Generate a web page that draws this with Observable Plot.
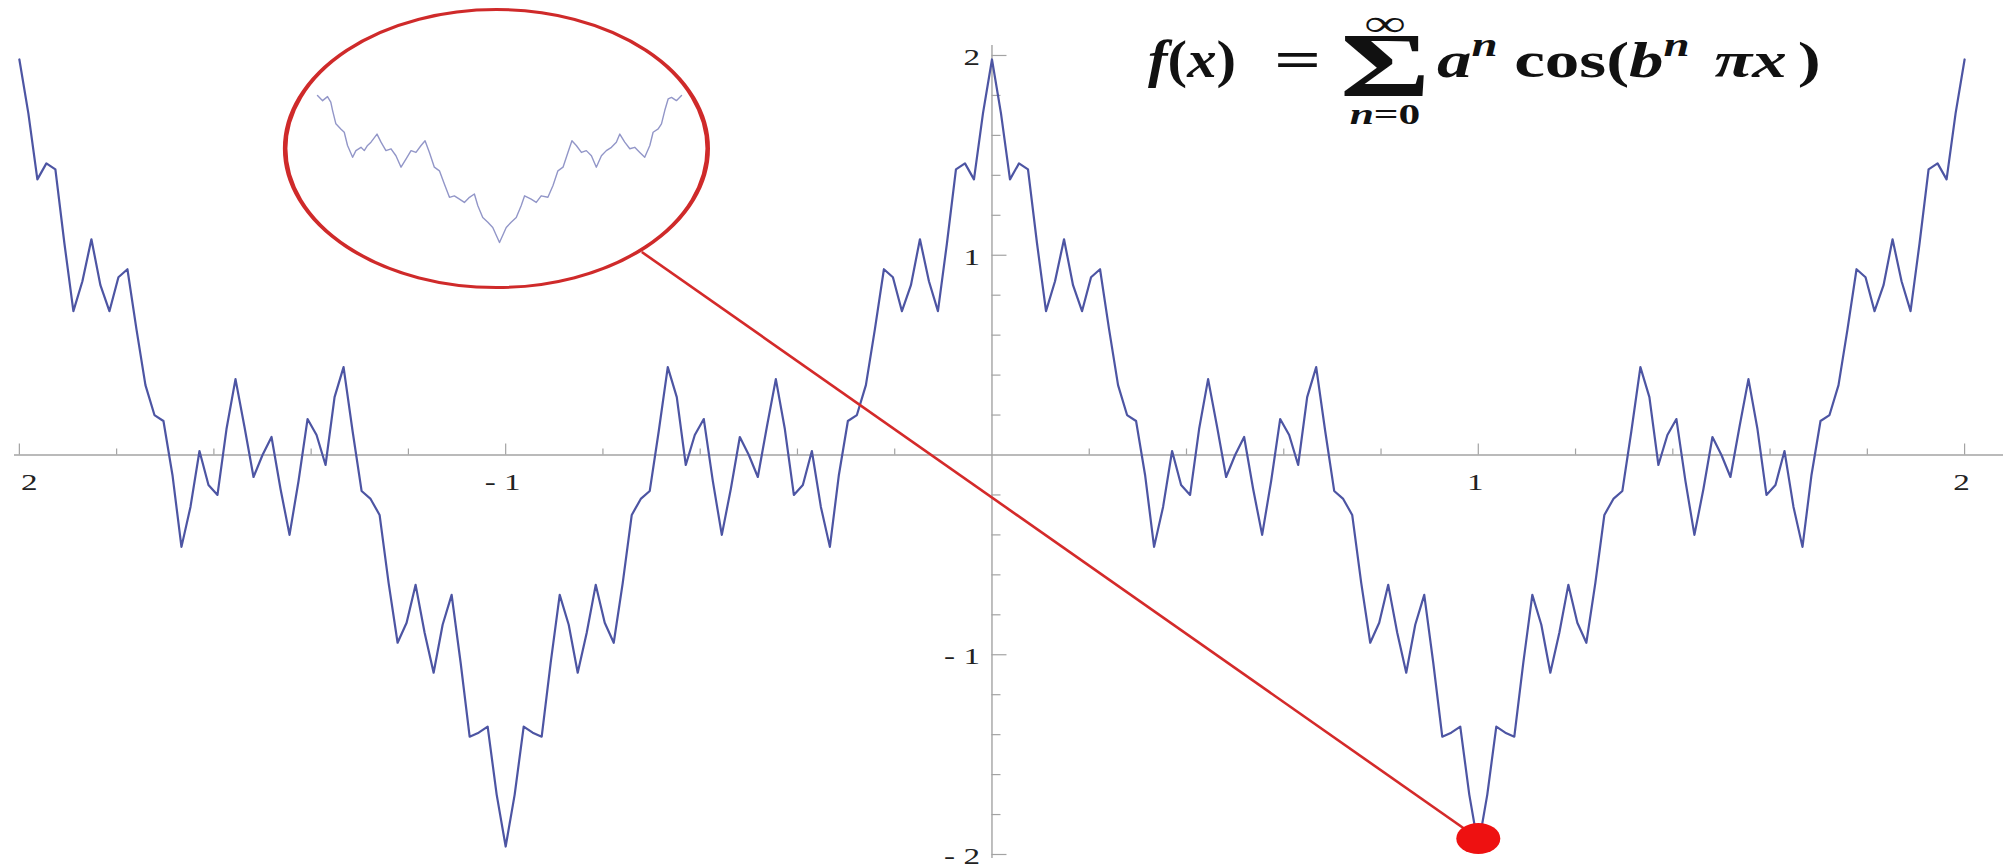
<!DOCTYPE html>
<html>
<head>
<meta charset="utf-8">
<script src="https://cdn.jsdelivr.net/npm/d3@7"></script>
<script src="https://cdn.jsdelivr.net/npm/@observablehq/plot@0.6"></script>
<style>
  html, body { margin: 0; padding: 0; background: #fff; }
  #chart { position: relative; width: 2015px; height: 868px; overflow: hidden; background: #fff; }
  #chart svg { display: block; }
</style>
</head>
<body>
<div id="chart"></div>
<script>
// Weierstrass curve f(x) = sum a^n cos(b^n pi x), sampled every 1/54 on each unit interval
const sampleStep = 1 / 54;

// x in [-2, -1]
const segmentA = [1.98, 1.71, 1.38, 1.46, 1.43, 1.06, 0.72, 0.87, 1.08, 0.85, 0.72, 0.89, 0.93, 0.63, 0.35, 0.20, 0.17, -0.10, -0.46, -0.26, 0.02, -0.15, -0.20, 0.13, 0.38, 0.14, -0.11, 0.00, 0.09, -0.17, -0.40, -0.13, 0.18, 0.10, -0.05, 0.29, 0.44, 0.12, -0.18, -0.22, -0.30, -0.64, -0.94, -0.84, -0.65, -0.89, -1.09, -0.85, -0.70, -1.04, -1.41, -1.39, -1.36, -1.70, -1.96];
// x in [-1, 0]
const segmentB = [-1.96, -1.70, -1.36, -1.39, -1.41, -1.04, -0.70, -0.85, -1.09, -0.89, -0.65, -0.84, -0.94, -0.64, -0.30, -0.22, -0.18, 0.12, 0.44, 0.29, -0.05, 0.10, 0.18, -0.13, -0.40, -0.17, 0.09, 0.00, -0.11, 0.14, 0.38, 0.13, -0.20, -0.15, 0.02, -0.26, -0.46, -0.10, 0.17, 0.20, 0.35, 0.63, 0.93, 0.89, 0.72, 0.85, 1.08, 0.87, 0.72, 1.06, 1.43, 1.46, 1.38, 1.71, 1.98];
// x in [0, 1]
const segmentC = [1.98, 1.71, 1.38, 1.46, 1.43, 1.06, 0.72, 0.87, 1.08, 0.85, 0.72, 0.89, 0.93, 0.63, 0.35, 0.20, 0.17, -0.10, -0.46, -0.26, 0.02, -0.15, -0.20, 0.13, 0.38, 0.14, -0.11, 0.00, 0.09, -0.17, -0.40, -0.13, 0.18, 0.10, -0.05, 0.29, 0.44, 0.12, -0.18, -0.22, -0.30, -0.64, -0.94, -0.84, -0.65, -0.89, -1.09, -0.85, -0.70, -1.04, -1.41, -1.39, -1.36, -1.70, -1.96];
// x in [1, 2]
const segmentD = [-1.96, -1.70, -1.36, -1.39, -1.41, -1.04, -0.70, -0.85, -1.09, -0.89, -0.65, -0.84, -0.94, -0.64, -0.30, -0.22, -0.18, 0.12, 0.44, 0.29, -0.05, 0.10, 0.18, -0.13, -0.40, -0.17, 0.09, 0.00, -0.11, 0.14, 0.38, 0.13, -0.20, -0.15, 0.02, -0.26, -0.46, -0.10, 0.17, 0.20, 0.35, 0.63, 0.93, 0.89, 0.72, 0.85, 1.08, 0.87, 0.72, 1.06, 1.43, 1.46, 1.38, 1.71, 1.98];
const segmentStarts = [-2, -1, 0, 1];

// magnified view around the minimum at x = 1 (local units)
const lensT = [-1, -0.972, -0.945, -0.927, -0.917, -0.899, -0.872, -0.853, -0.835, -0.807, -0.789, -0.761, -0.743, -0.725, -0.706, -0.673, -0.651, -0.624, -0.596, -0.569, -0.541, -0.514, -0.486, -0.459, -0.431, -0.409, -0.385, -0.358, -0.330, -0.303, -0.275, -0.248, -0.220, -0.193, -0.165, -0.138, -0.119, -0.092, -0.064, -0.037, 0, 0.037, 0.064, 0.092, 0.119, 0.138, 0.174, 0.202, 0.229, 0.266, 0.294, 0.321, 0.349, 0.376, 0.398, 0.422, 0.450, 0.477, 0.505, 0.532, 0.560, 0.587, 0.615, 0.642, 0.661, 0.688, 0.716, 0.743, 0.771, 0.798, 0.826, 0.844, 0.872, 0.890, 0.908, 0.927, 0.945, 0.972, 1.0];
const lensV = [2.0, 1.86, 1.97, 1.82, 1.59, 1.23, 1.09, 1.0, 0.64, 0.32, 0.5, 0.59, 0.5, 0.64, 0.73, 0.95, 0.73, 0.5, 0.55, 0.36, 0.05, 0.27, 0.5, 0.45, 0.64, 0.77, 0.45, 0.05, -0.05, -0.41, -0.77, -0.73, -0.82, -0.91, -0.77, -0.68, -1.0, -1.32, -1.45, -1.59, -2.0, -1.59, -1.45, -1.32, -1.0, -0.73, -0.82, -0.91, -0.73, -0.77, -0.45, -0.05, 0.05, 0.45, 0.77, 0.64, 0.45, 0.5, 0.36, 0.05, 0.36, 0.5, 0.59, 0.73, 0.95, 0.73, 0.55, 0.59, 0.45, 0.32, 0.64, 1.0, 1.09, 1.23, 1.59, 1.91, 1.95, 1.86, 2.0];

// axis ticks and labels
const xTickValues = [-2, -1.8, -1.6, -1.4, -1.2, -1, -0.8, -0.6, -0.4, -0.2, 0.2, 0.4, 0.6, 0.8, 1, 1.2, 1.4, 1.6, 1.8, 2];
const yTickValues = [-2, -1.8, -1.6, -1.4, -1.2, -1, -0.8, -0.6, -0.4, -0.2, 0.2, 0.4, 0.6, 0.8, 1, 1.2, 1.4, 1.6, 1.8, 2];
const xLabelValues = [-2, -1, 1, 2];
const xLabelText = ["2", "- 1", "1", "2"];
const yLabelValues = [2, 1, -1, -2];
const yLabelText = ["2", "1", "- 1", "- 2"];

// callout: marked point, lens centre, leader line
const markedPoint = [{x: 1, y: -1.92}];
const lensCentre = [{x: -1.019, y: 1.534}];
const leader = [{x1: -0.72, y1: 1.016, x2: 1, y2: -1.92}];

// ---- tables
const curve = [];
[segmentA, segmentB, segmentC, segmentD].forEach((vals, s) => {
  vals.forEach((v, i) => curve.push({x: segmentStarts[s] + i * sampleStep, y: v}));
});
const lensCurve = lensT.map((t, i) => ({t, v: lensV[i]}));
const xLabels = xLabelValues.map((x, i) => ({x, label: xLabelText[i]}));
const yLabels = yLabelValues.map((y, i) => ({y, label: yLabelText[i]}));

// ---- layout
const W = 2015, H = 868;
const xDomain = [-2.01, 2.08], yDomain = [-2.02, 2.05];
const mL = 14, mR = 12, mT = 45, mB = 10;
const xPx = (W - mL - mR) / (xDomain[1] - xDomain[0]);
const yPx = (H - mT - mB) / (yDomain[1] - yDomain[0]);
const stretch = 1.38;           // horizontal stretch of glyphs
const axisGrey = "#a3a3a3";
const serif = "'Liberation Serif', 'Times New Roman', serif";

const main = Plot.plot({
  width: W, height: H,
  marginLeft: mL, marginRight: mR, marginTop: mT, marginBottom: mB,
  x: {domain: xDomain, axis: null},
  y: {domain: yDomain, axis: null},
  style: {background: "#fff", overflow: "visible"},
  marks: [
    Plot.ruleY([0], {stroke: axisGrey, strokeWidth: 1.4}),
    Plot.ruleX([0], {stroke: axisGrey, strokeWidth: 1.4}),
    Plot.ruleX(xTickValues, {x: d => d, y1: 0, y2: d => (Number.isInteger(d) ? 11 : 6) / yPx, stroke: axisGrey, strokeWidth: 1.2}),
    Plot.ruleY(yTickValues, {y: d => d, x1: 0, x2: d => (Number.isInteger(d) ? 15 : 9) / xPx, stroke: axisGrey, strokeWidth: 1.2}),
    Plot.text(xLabels.slice(0, 1), {x: "x", y: 0, text: "label", dy: 27, dx: 10, fontSize: 24, fontFamily: serif, fill: "#222"}),
    Plot.text(xLabels.slice(1), {x: "x", y: 0, text: "label", dy: 27, dx: -3, fontSize: 24, fontFamily: serif, fill: "#222"}),
    Plot.text(yLabels, {x: 0, y: "y", text: "label", textAnchor: "end", dx: -12, dy: 2, fontSize: 24, fontFamily: serif, fill: "#222"}),
    Plot.line(curve, {x: "x", y: "y", stroke: "#4d55a3", strokeWidth: 2.2}),
    Plot.link(leader, {x1: "x1", y1: "y1", x2: "x2", y2: "y2", stroke: "#d42a2a", strokeWidth: 2.6}),
    Plot.dot(lensCentre, {x: "x", y: "y", r: 139, fill: "none", stroke: "#cf2a2a", strokeWidth: 3}),
    Plot.dot(markedPoint, {x: "x", y: "y", r: 15.5, fill: "#ee1111", stroke: "none"})
  ]
});

// widen a glyph or shape horizontally around its own anchor
function widen(el, s) {
  const t = el.getAttribute("transform");
  if (t) { el.setAttribute("transform", t + ` scale(${s},1)`); return; }
  const cx = +(el.getAttribute("cx") ?? el.getAttribute("x") ?? 0);
  const cy = +(el.getAttribute("cy") ?? el.getAttribute("y") ?? 0);
  el.setAttribute("transform", `translate(${cx},${cy}) scale(${s},1) translate(${-cx},${-cy})`);
}
main.querySelectorAll('g[aria-label="text"] text').forEach(el => widen(el, stretch));
const dotGroups = main.querySelectorAll('g[aria-label="dot"]');
dotGroups[0].querySelectorAll("circle, path").forEach(el => widen(el, 1.52));   // lens
dotGroups[1].querySelectorAll("circle, path").forEach(el => widen(el, 1.42));   // marked point

// formula, each piece placed at its own anchor with its own horizontal stretch
const svg = d3.select(main);
const fg = svg.append("g")
  .attr("fill", "#111")
  .attr("text-anchor", "start")
  .attr("font-family", serif)
  .attr("font-weight", "bold");

function piece(x, y, sx, size, anchor) {
  return fg.append("text")
    .attr("transform", `translate(${x},${y}) scale(${sx},1)`)
    .attr("font-size", size)
    .attr("text-anchor", anchor || "start");
}

const lhs = piece(1148, 77, 1.13, 52);
lhs.append("tspan").attr("font-style", "italic").text("f");
lhs.append("tspan").text("(");
lhs.append("tspan").attr("font-style", "italic").text("x");
lhs.append("tspan").text(")");

piece(1274, 77, 1.6, 52).text("=");

// summation sign with its limits, stacked in one text element
const sum = piece(1385, 0, 1.5, 92, "middle");
sum.append("tspan").attr("x", 0).attr("y", 36).attr("font-size", 38).text("∞");
sum.append("tspan").attr("x", 0).attr("y", 96).text("Σ");
sum.append("tspan").attr("x", 0).attr("y", 124).attr("font-size", 29).attr("font-style", "italic").text("n");
sum.append("tspan").attr("font-size", 29).text("=0");

const rhs = piece(1437, 77, stretch, 50);
rhs.append("tspan").attr("font-style", "italic").text("a");
rhs.append("tspan").attr("font-style", "italic").attr("font-size", 34).attr("dy", -21).text("n");
rhs.append("tspan").attr("dy", 21).attr("dx", 12).text("cos(");
rhs.append("tspan").attr("font-style", "italic").text("b");
rhs.append("tspan").attr("font-style", "italic").attr("font-size", 34).attr("dy", -21).text("n");
rhs.append("tspan").attr("font-style", "italic").attr("dy", 21).attr("dx", 18).text("πx");
rhs.append("tspan").attr("dx", 8).text(")");

const chart = document.getElementById("chart");
chart.appendChild(main);

// magnified curve inside the lens
const inset = Plot.plot({
  width: 370, height: 160,
  marginLeft: 3, marginRight: 3, marginTop: 6, marginBottom: 7,
  x: {domain: [-1, 1], axis: null},
  y: {domain: [-2, 2], axis: null},
  style: {background: "transparent"},
  marks: [
    Plot.line(lensCurve, {x: "t", y: "v", stroke: "#9296c8", strokeWidth: 1.4})
  ]
});
inset.style.position = "absolute";
inset.style.left = "314px";
inset.style.top = "89px";
chart.appendChild(inset);
</script>
</body>
</html>
